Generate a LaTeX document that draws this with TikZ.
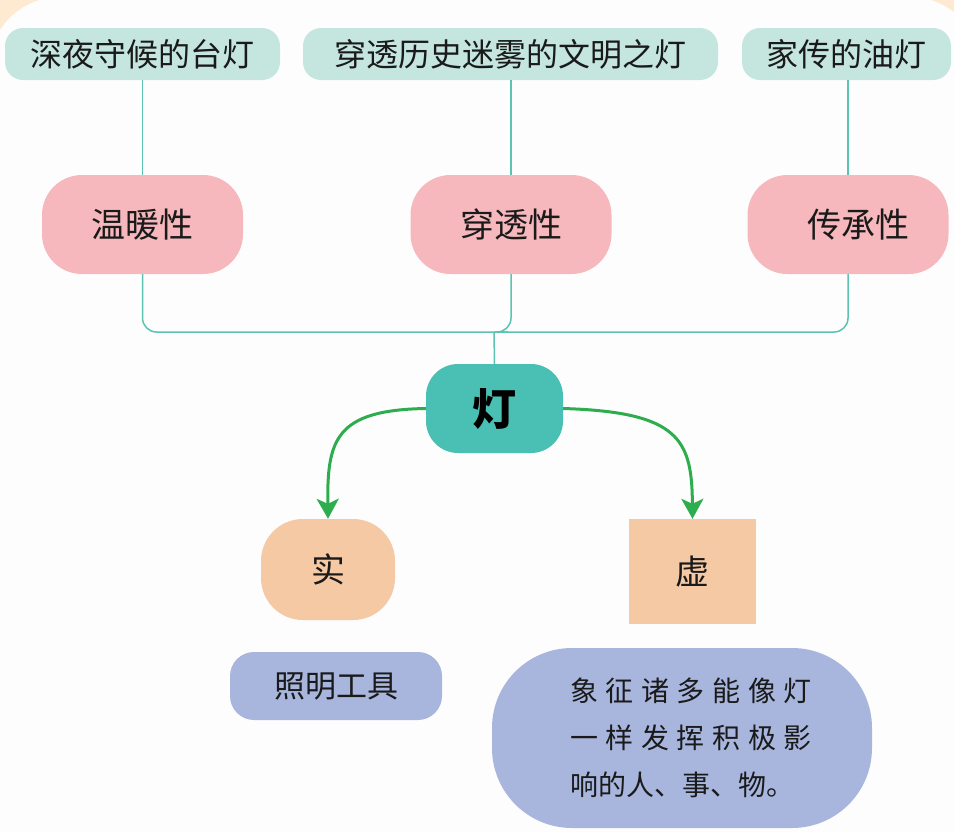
\documentclass[tikz,border=0pt]{standalone}
\usepackage{fontspec}
\newfontfamily\cjk{Noto Sans CJK SC}
\usetikzlibrary{arrows.meta}
\definecolor{cream}{HTML}{FDEAD0}
\definecolor{paper}{HTML}{FEFDFE}
\definecolor{topfill}{HTML}{C5E6DF}
\definecolor{pinkfill}{HTML}{F6B8BD}
\definecolor{dengfill}{HTML}{49C0B3}
\definecolor{peach}{HTML}{F4C9A3}
\definecolor{bluefill}{HTML}{A8B6DE}
\definecolor{tealline}{HTML}{5CC3B3}
\definecolor{garrowc}{HTML}{2EAD4F}
\definecolor{ink}{HTML}{1A1A1A}
\tikzset{
  x=1pt, y=-1pt,
  box/.style={inner sep=0pt, text=ink, font=\cjk\fontsize{32}{36}\selectfont},
  topbox/.style={box, fill=topfill, rounded corners=18pt, minimum height=52pt},
  pinkbox/.style={box, fill=pinkfill, rounded corners=40pt, minimum width=201pt, minimum height=99pt, font=\cjk\fontsize{34}{38}\selectfont},
  conn/.style={draw=tealline, line width=1.5pt},
  garrow/.style={draw=garrowc, line width=3pt, -{Stealth[width=22pt,length=20pt,inset=5pt]}},
}
\begin{document}
\begin{tikzpicture}
\useasboundingbox (0,0) rectangle (954,831);
\fill[cream] (0,0) rectangle (954,831);
\fill[paper, rounded corners=71pt] (-11,-3) rectangle (981,900);

% top boxes
\node[topbox, minimum width=275pt] (t1) at (142.5,54) {深夜守候的台灯};
\node[topbox, minimum width=415pt] (t2) at (510.5,54) {穿透历史迷雾的文明之灯};
\node[topbox, minimum width=209pt] (t3) at (846.5,54) {家传的油灯};

% pink boxes
\node[pinkbox] (wen) at (142.5,224.5) {温暖性};
\node[pinkbox] (chuan) at (511,224.5) {穿透性};
\node[pinkbox] (cheng) at (848,224.5) {\hspace*{20pt}传承性};

% centre
\node[box, fill=dengfill, rounded corners=32pt, minimum width=137pt, minimum height=89pt,
      font=\cjk\bfseries\fontsize{44}{48}\selectfont, text=black] (deng) at (494.5,408.5) {灯};

% real / virtual
\node[box, fill=peach, rounded corners=42pt, minimum width=134pt, minimum height=101pt,
      font=\cjk\fontsize{34}{38}\selectfont] (shi) at (328,569.5) {实};
\node[box, fill=peach, minimum width=127pt, minimum height=105pt,
      font=\cjk\fontsize{34}{38}\selectfont] (xu) at (692.5,571.5) {虚};

% meanings
\node[box, fill=bluefill, rounded corners=24pt, minimum width=212pt, minimum height=68pt,
      font=\cjk\fontsize{31}{36}\selectfont] (zm) at (336,686) {照明工具};
\node[box, fill=bluefill, rounded corners=80pt, minimum width=380pt, minimum height=180pt,
      font=\cjk\fontsize{28}{47}\selectfont, text width=380pt, align=left] (xz) at (682,738)
  {\hspace*{78pt}\makebox[242pt][l]{象\hfill 征\hfill 诸\hfill 多\hfill 能\hfill 像\hfill 灯}\\
   \hspace*{78pt}\makebox[242pt][l]{一\hfill 样\hfill 发\hfill 挥\hfill 积\hfill 极\hfill 影}\\
   \hspace*{78pt}响的人、事、物。};

% connectors top
\draw[conn] (t1.south) -- (wen.north);
\draw[conn] (chuan.north |- t2.south) -- (chuan.north);
\draw[conn] (cheng.north |- t3.south) -- (cheng.north);

% tree to centre
\coordinate (junc) at (494,332);
\draw[conn, rounded corners=14pt] (wen.south) |- (junc) -| (chuan.south);
\draw[conn, rounded corners=14pt] (junc) -| (cheng.south);
\draw[conn] (junc) -- (deng.north);

% green arrows
\draw[garrow] (deng.west) .. controls (335,410) and (327,440) .. (shi.north);
\draw[garrow] (deng.east) .. controls (680,412) and (692,440) .. (xu.north);
\end{tikzpicture}
\end{document}
